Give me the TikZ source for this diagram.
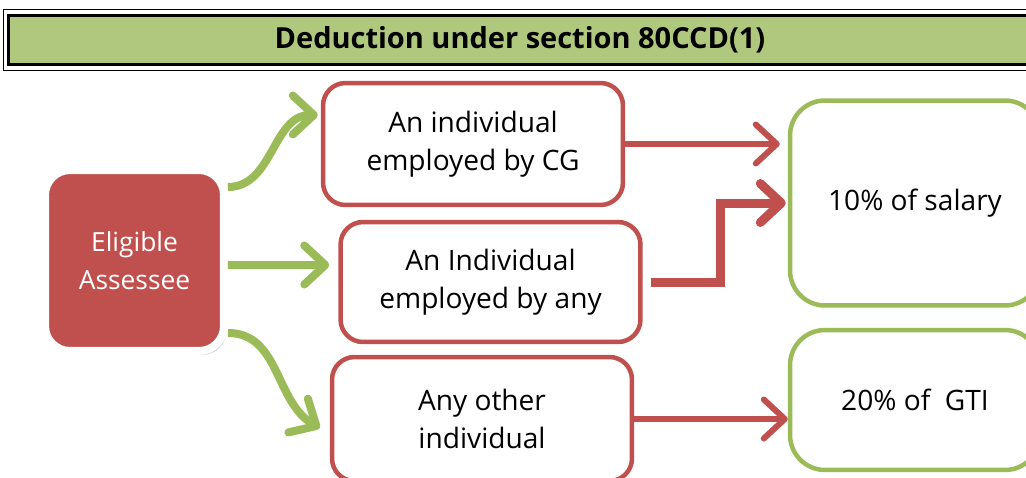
\documentclass[tikz,border=0pt]{standalone}
\usepackage{fontspec}
\setmainfont{Open Sans}
\usepackage{tikz}
\usetikzlibrary{arrows.meta,positioning,calc,shadows}

\definecolor{boxred}{RGB}{192,80,77}
\definecolor{boxgreen}{RGB}{155,187,89}
\definecolor{bargreen}{RGB}{176,200,126}

\begin{document}
\begin{tikzpicture}[
    x=0.02cm, y=0.02cm,
    titlebar/.style={rectangle, draw=black, line width=0.07cm, fill=bargreen, minimum width=20.46cm, minimum height=0.98cm, font=\fontsize{16.5}{18}\selectfont\bfseries},
    assessee/.style={rectangle, rounded corners=0.5cm, fill=boxred, draw=white, line width=0.16cm, minimum width=3.58cm, minimum height=3.62cm, text=white, align=center, font=\fontsize{15}{21.6}\selectfont, drop shadow={opacity=0.35, shadow xshift=0.06cm, shadow yshift=-0.08cm}},
    category/.style={rectangle, rounded corners=0.45cm, draw=boxred, line width=0.09cm, fill=white, minimum width=6cm, align=center, font=\fontsize{16}{21.6}\selectfont},
    limit/.style={rectangle, rounded corners=0.7cm, draw=boxgreen, line width=0.09cm, fill=white, minimum width=5cm, align=center, font=\fontsize{16}{21.6}\selectfont},
    greenarrow/.style={draw=boxgreen, line width=0.16cm, -{Straight Barb[round, length=0.42cm, width=0.78cm]}},
    redarrow/.style={draw=boxred, line width=0.12cm, -{Straight Barb[round, length=0.42cm, width=0.78cm]}}
]
\useasboundingbox (0,0) rectangle (1026,-477);

% Heading
\node[titlebar] (title) at (520,-40) {Deduction under section 80CCD(1)};
\draw[line width=0.02cm] ($(title.north west)+(-3.5,4.5)$) rectangle ($(title.south east)+(20,-4.5)$);

% Who can claim
\node[assessee] (elig) at (134.5,-260.5) {Eligible\\Assessee};
\node[category, minimum height=2.44cm] (cg) at (473,-144) {An individual\\employed by CG};
\node[category, minimum height=2.4cm] (anyemp) at (490.5,-282) {An Individual\\employed by any};
\node[category, minimum height=2.48cm] (other) at (482,-419) {Any other\\individual};

% Limits
\node[limit, minimum height=4.1cm] (salary) at (915,-203) {10\% of salary};
\node[limit, minimum height=2.8cm] (gti) at (915,-400) {20\% of\ \ GTI};

% Arrows
\draw[greenarrow] ($(elig.east)+(0,73.5)$) to[out=0, in=180] ($(cg.west)+(-3,29)$);
\draw[greenarrow] ($(elig.east)+(0,-4.5)$) -- ($(anyemp.west)+(-9,17)$);
\draw[greenarrow] ($(elig.east)+(0,-72.5)$) to[out=0, in=150] ($(other.west)+(-10,-9)$);

\coordinate (bend) at (720,-203);
\draw[redarrow, shorten >=0.16cm] (cg.east) -- (cg.east -| salary.west);
\draw[redarrow, line width=0.18cm, shorten <=0.16cm, shorten >=0.04cm] (anyemp.east) -| (bend) -- (salary.west);
\draw[redarrow] (other.east) -- (other.east -| gti.west);

\end{tikzpicture}
\end{document}
